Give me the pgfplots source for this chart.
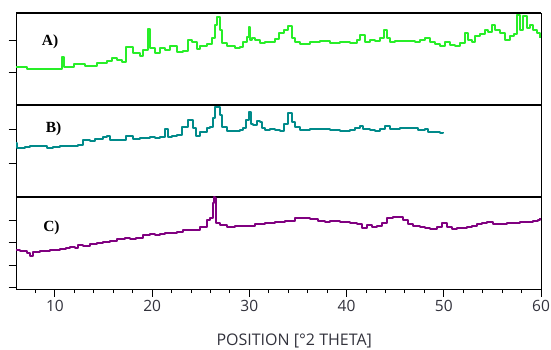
\documentclass[border=0pt]{standalone}
\usepackage{pgfplots}
\pgfplotsset{compat=1.18}
\usepackage{fontspec}
\setmainfont{Open Sans}
\newfontfamily\serifb{Liberation Serif}
\definecolor{cA}{RGB}{40,238,40}
\definecolor{cB}{RGB}{0,138,138}
\definecolor{cC}{RGB}{128,0,128}
\definecolor{tk}{RGB}{50,50,60}
\pgfplotsset{
  panel/.style={
    scale only axis, width=525pt, height=92pt,
    xmin=6, xmax=60, ymin=0, ymax=92,
    axis line style={line width=0.9pt, black},
    ytick pos=left, yticklabels={}, tick align=outside,
    major tick length=7.5pt, minor tick length=4pt,
    ytick style={line width=0.9pt, black},
    /pgf/number format/assume math mode=true,
    clip=false,
  },
  trace/.style={const plot, line width=2.3pt, line join=round},
}
\pgfplotstableread{
x y
6.00 38
7.13 36
10.53 36
10.73 48
10.94 38
11.97 41
12.58 41
13.10 39
14.33 42
15.36 44
15.88 47
16.39 45
16.91 43
17.32 58
18.04 52
18.76 49
19.07 55
19.58 76
19.79 57
20.30 52
20.81 57
21.33 55
21.84 59
22.56 53
23.18 54
23.70 65
24.11 63
24.62 56
24.93 59
25.65 61
26.16 67
26.47 80
26.68 88
26.99 75
27.19 62
27.71 59
28.53 57
29.05 58
29.35 63
29.77 68
29.97 78
30.07 65
30.28 67
30.59 65
31.10 62
31.62 63
32.34 63
32.65 66
33.06 72
33.57 75
33.98 79
34.40 67
34.70 63
35.22 61
36.25 63
37.28 64
38.30 62
39.33 63
40.36 62
41.08 65
41.39 70
41.91 63
42.42 65
42.93 64
43.45 67
43.86 75
44.17 67
44.48 63
44.99 64
46.02 64
47.05 63
47.56 65
48.08 67
48.59 63
49.11 61
49.62 59
50.14 63
50.65 60
51.16 59
51.68 62
52.19 72
52.50 65
52.91 63
53.22 69
53.74 71
54.25 75
54.56 73
54.97 80
55.28 75
55.79 72
56.31 65
56.82 69
57.23 71
57.54 90
57.85 75
58.16 89
58.57 77
58.88 80
59.19 75
59.60 72
59.91 67
}\dataA
\pgfplotstableread{
x y
6.00 53
6.10 48
6.93 49
7.44 50
8.47 50
9.19 48
9.81 49
10.53 50
11.56 50
12.38 51
12.89 56
13.61 55
14.13 57
14.95 59
15.36 60
15.67 56
16.19 56
16.70 56
17.32 60
18.04 57
18.76 58
19.79 59
20.30 58
20.81 59
21.33 67
21.64 59
22.05 60
22.56 61
23.08 69
23.70 76
24.21 68
24.52 60
24.93 64
25.65 68
25.96 69
26.27 78
26.47 89
26.78 89
26.99 81
27.19 69
27.71 65
28.53 65
29.05 66
29.35 68
29.66 76
29.97 84
30.18 72
30.38 71
30.79 75
31.10 74
31.31 68
31.62 66
32.13 67
32.65 66
33.16 65
33.57 72
33.98 83
34.40 74
34.70 69
35.22 66
36.25 67
37.28 67
38.30 66
39.33 65
40.36 66
40.88 68
41.39 70
41.70 67
42.42 66
42.93 65
43.45 67
43.96 70
44.48 67
45.51 68
46.53 68
47.36 66
48.08 67
48.39 64
49.11 64
49.62 63
49.93 64
}\dataB
\pgfplotstableread{
x y
6.00 39
6.41 38
7.13 36
7.44 33
7.75 37
8.47 38
9.50 39
10.53 40
11.14 41
11.56 42
12.07 41
12.38 44
12.89 43
13.61 45
14.33 46
14.95 47
15.67 48
16.39 50
17.21 51
17.73 50
18.35 51
19.07 54
19.79 55
20.30 54
20.81 55
21.33 56
21.84 56
22.56 57
23.18 59
23.90 59
24.93 62
25.65 69
25.96 71
26.27 86
26.37 92
26.47 91
26.58 66
26.99 64
27.71 62
28.53 63
29.56 63
30.59 65
31.62 66
32.65 67
33.67 68
34.70 71
35.53 71
36.25 70
37.07 68
37.79 67
38.30 68
39.33 67
40.36 66
41.08 65
41.60 61
42.11 64
42.63 62
43.14 63
43.65 66
44.17 71
44.79 72
45.30 72
45.81 69
46.33 65
46.84 63
47.56 62
48.08 61
48.59 60
49.31 62
49.83 66
50.34 62
50.86 60
51.37 61
51.88 61
52.40 62
52.91 63
53.43 65
53.94 66
54.46 67
55.07 65
55.79 65
56.51 66
57.13 66
57.85 67
58.57 67
59.19 68
59.70 69
59.91 71
}\dataC
\begin{document}
\begin{tikzpicture}[x=1pt,y=1pt]
\useasboundingbox (0,0) rectangle (551,-349);
% Panel A
\begin{axis}[panel, at={(16pt,-13pt)}, anchor=north west,
  xtick=\empty, ytick={33,65}]
\addplot[trace, cA] table[x=x,y=y] {\dataA};
\draw[line width=2.6pt] (rel axis cs:0,1) -- (rel axis cs:1,1);
\node[font=\serifb\bfseries\fontsize{15.5}{15.5}\selectfont] at (axis cs:9.5,63) {A)};
\end{axis}
% Panel B
\begin{axis}[panel, at={(16pt,-104pt)}, anchor=north west,
  xtick=\empty, ytick={33,67}]
\addplot[trace, cB] table[x=x,y=y] {\dataB};
\node[font=\serifb\bfseries\fontsize{15.5}{15.5}\selectfont] at (axis cs:9.86,67) {B)};
\end{axis}
% Panel C
\begin{axis}[panel, at={(16pt,-197pt)}, anchor=north west,
  ytick={2,24,47,69},
  xtick={10,20,30,40,50,60}, minor xtick={8,12,14,16,18,22,24,26,28,32,34,36,38,42,44,46,48,52,54,56,58},
  xtick pos=bottom,
  xtick style={line width=0.9pt, black},
  x tick label style={font=\fontsize{15.5}{15.5}\selectfont, text=tk},
  xlabel={POSITION [°2 THETA]},
  xlabel style={font=\fontsize{16}{16}\selectfont, text=tk, at={(axis description cs:0.53,-0.565)}, anchor=center},
]
\addplot[trace, cC] table[x=x,y=y] {\dataC};
\node[font=\serifb\bfseries\fontsize{15.5}{15.5}\selectfont] at (axis cs:9.65,61) {C)};
\end{axis}
\end{tikzpicture}
\end{document}
